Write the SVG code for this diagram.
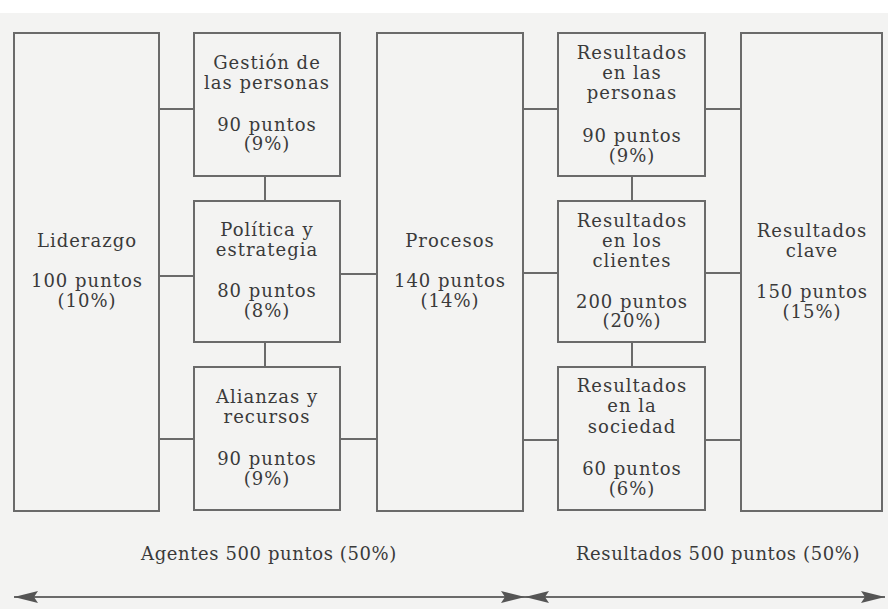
<svg xmlns="http://www.w3.org/2000/svg" width="892" height="609" viewBox="0 0 892 609">
<style>
.bg{fill:#f3f3f2}
.box{fill:none;stroke:#6a6a6a;stroke-width:2}
.c line{stroke:#6a6a6a;stroke-width:2}
text{font-family:"DejaVu Serif","Liberation Serif",serif;font-size:18px;fill:#3a3a3a;text-anchor:middle;letter-spacing:1px}
.lbl{letter-spacing:0.6px}
.arr{stroke:#6a6a6a;stroke-width:2;fill:none}
</style>
<defs>
<marker id="ah" viewBox="0 0 24 12" refX="24" refY="6" markerWidth="24" markerHeight="12" markerUnits="userSpaceOnUse" orient="auto">
<path d="M0,0 L24,6 L0,12 L4,6 Z" fill="#555"/>
</marker>
</defs>
<rect width="892" height="609" fill="#ffffff"/>
<rect class="bg" x="0" y="13" width="888" height="596"/>

<g id="connectors" class="c">
<line x1="159" y1="109" x2="194" y2="109"/>
<line x1="159" y1="276" x2="194" y2="276"/>
<line x1="159" y1="439" x2="194" y2="439"/>
<line x1="265" y1="176" x2="265" y2="201"/>
<line x1="265" y1="342" x2="265" y2="367"/>
<line x1="340" y1="274" x2="377" y2="274"/>
<line x1="340" y1="439" x2="377" y2="439"/>
<line x1="523" y1="109" x2="558" y2="109"/>
<line x1="523" y1="273" x2="558" y2="273"/>
<line x1="523" y1="440" x2="558" y2="440"/>
<line x1="705" y1="109" x2="741" y2="109"/>
<line x1="705" y1="273" x2="741" y2="273"/>
<line x1="705" y1="440" x2="741" y2="440"/>
<line x1="632" y1="176" x2="632" y2="201"/>
<line x1="632" y1="342" x2="632" y2="367"/>
</g>

<g id="liderazgo">
<rect class="box" x="14" y="33" width="145" height="478"/>
<text x="87" y="247">Liderazgo</text>
<text x="87" y="287">100 puntos</text>
<text x="87" y="307">(10%)</text>
</g>

<g id="gestion-personas">
<rect class="box" x="194" y="33" width="146" height="143"/>
<text x="267" y="69">Gestión de</text>
<text x="267" y="89">las personas</text>
<text x="267" y="131">90 puntos</text>
<text x="267" y="150">(9%)</text>
</g>

<g id="politica">
<rect class="box" x="194" y="201" width="146" height="141"/>
<text x="267" y="236">Política y</text>
<text x="267" y="256">estrategia</text>
<text x="267" y="297">80 puntos</text>
<text x="267" y="317">(8%)</text>
</g>

<g id="alianzas">
<rect class="box" x="194" y="367" width="146" height="143"/>
<text x="267" y="403">Alianzas y</text>
<text x="267" y="423">recursos</text>
<text x="267" y="465">90 puntos</text>
<text x="267" y="485">(9%)</text>
</g>

<g id="procesos">
<rect class="box" x="377" y="33" width="146" height="478"/>
<text x="450" y="247">Procesos</text>
<text x="450" y="287">140 puntos</text>
<text x="450" y="307">(14%)</text>
</g>

<g id="resultados-personas">
<rect class="box" x="558" y="33" width="147" height="143"/>
<text x="632" y="59">Resultados</text>
<text x="632" y="79">en las</text>
<text x="632" y="99">personas</text>
<text x="632" y="142">90 puntos</text>
<text x="632" y="162">(9%)</text>
</g>

<g id="resultados-clientes">
<rect class="box" x="558" y="201" width="147" height="141"/>
<text x="632" y="227">Resultados</text>
<text x="632" y="247">en los</text>
<text x="632" y="267">clientes</text>
<text x="632" y="308">200 puntos</text>
<text x="632" y="327">(20%)</text>
</g>

<g id="resultados-sociedad">
<rect class="box" x="558" y="367" width="147" height="143"/>
<text x="632" y="392">Resultados</text>
<text x="632" y="412">en la</text>
<text x="632" y="433">sociedad</text>
<text x="632" y="475">60 puntos</text>
<text x="632" y="495">(6%)</text>
</g>

<g id="resultados-clave">
<rect class="box" x="741" y="33" width="141" height="478"/>
<text x="812" y="237">Resultados</text>
<text x="812" y="257">clave</text>
<text x="812" y="298">150 puntos</text>
<text x="812" y="318">(15%)</text>
</g>

<g id="agentes">
<text class="lbl" x="269" y="560">Agentes 500 puntos (50%)</text>
<line class="arr" x1="270" y1="597" x2="14" y2="597" marker-end="url(#ah)"/>
<line class="arr" x1="270" y1="597" x2="525" y2="597" marker-end="url(#ah)"/>
</g>

<g id="resultados">
<text class="lbl" x="718" y="560">Resultados 500 puntos (50%)</text>
<line class="arr" x1="705" y1="597" x2="525" y2="597" marker-end="url(#ah)"/>
<line class="arr" x1="705" y1="597" x2="885" y2="597" marker-end="url(#ah)"/>
</g>
</svg>
